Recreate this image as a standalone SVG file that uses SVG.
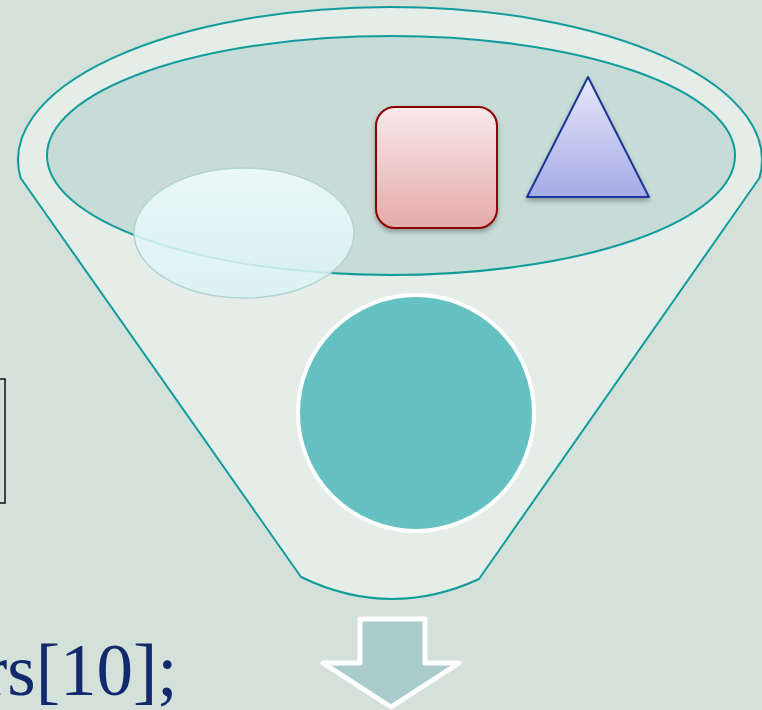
<svg xmlns="http://www.w3.org/2000/svg" width="762" height="710" viewBox="0 0 762 710">
<defs>
<style>
.teal{stroke:#119c9c;stroke-width:2;}
</style>
<linearGradient id="gEll" x1="0" y1="0" x2="0" y2="1"><stop offset="0" stop-color="#f0fcfc"/><stop offset="1" stop-color="#d9f3f3"/></linearGradient>
<linearGradient id="gSq" x1="0" y1="0" x2="0" y2="1"><stop offset="0" stop-color="#fae9ea"/><stop offset="1" stop-color="#e5a9a9"/></linearGradient>
<linearGradient id="gTri" x1="0" y1="0" x2="0" y2="1"><stop offset="0" stop-color="#e6e8fa"/><stop offset="1" stop-color="#a5abe6"/></linearGradient>
<filter id="sh" x="-20%" y="-20%" width="140%" height="150%"><feDropShadow dx="0" dy="3" stdDeviation="2.5" flood-color="#000" flood-opacity="0.3"/></filter>
</defs>
<rect width="762" height="710" fill="#d4e1db"/>
<g id="leftbox"><rect x="-100" y="379" width="105" height="124" fill="none" stroke="#111" stroke-width="1.5"/></g>
<g id="code"><text x="-17" y="695" font-family="'Liberation Serif', serif" font-size="73" fill="#12296c">rs[10];</text></g>
<g id="funnel">
<path d="M20.6,178 A372,153 0 1 1 759.4,178 L479,579 Q390,620 301,577 Z" fill="#e4ede8" class="teal" stroke-linejoin="round"/>
<ellipse cx="391" cy="155.5" rx="344" ry="119.5" fill="#c7dcd7" class="teal"/>
</g>
<g id="lightellipse"><ellipse cx="244" cy="233" rx="110" ry="65" fill="url(#gEll)" fill-opacity="0.85" stroke="#b3d3d3" stroke-width="1.5"/></g>
<g id="square"><rect x="376" y="107" width="121" height="121" rx="19" fill="url(#gSq)" stroke="#8b0000" stroke-width="2" filter="url(#sh)"/></g>
<g id="triangle"><polygon points="588,77 649,197 527,197" fill="url(#gTri)" stroke="#1f3799" stroke-width="2" stroke-linejoin="round" filter="url(#sh)"/></g>
<g id="circle"><circle cx="416" cy="413" r="118" fill="#66c2c2" stroke="#ffffff" stroke-width="4"/></g>
<g id="connectors"><polygon id="arrow" points="360,619 425,619 425,663 459,663 391,707 323,663 360,663" fill="#a9cbcb" stroke="#ffffff" stroke-width="5" stroke-linejoin="round"/></g>
</svg>
